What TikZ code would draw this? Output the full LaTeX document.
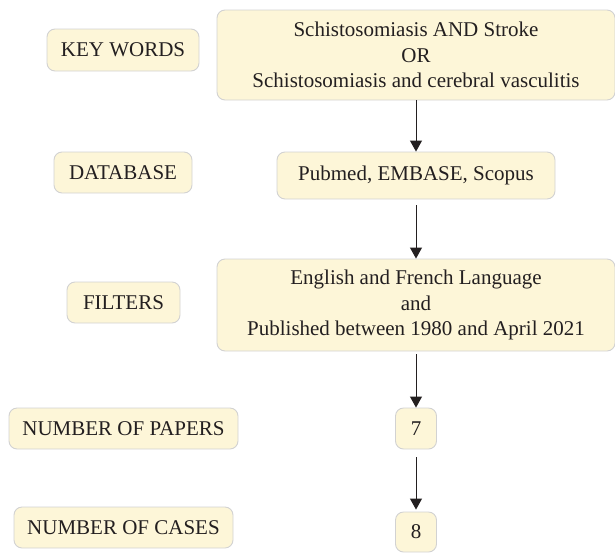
\documentclass[tikz,border=0pt]{standalone}
\usepackage{fontspec}
\setmainfont{Liberation Serif}
\usepackage{tikz}
\usepackage{xcolor}
\usetikzlibrary{arrows.meta}

\definecolor{boxfill}{HTML}{FDF6D8}
\definecolor{boxline}{HTML}{D2D2D2}
\definecolor{arrowcol}{HTML}{231F20}

\begin{document}
\begin{tikzpicture}[x=1pt,y=-1pt,
	box/.style={draw=boxline,fill=boxfill,line width=0.9pt,rounded corners=8pt,
		align=center,inner sep=0pt,font=\fontsize{21}{25.5}\selectfont,text=arrowcol},
	flow/.style={-{Triangle[length=11pt,width=12pt]},line width=1pt,draw=arrowcol}]
	
	\useasboundingbox (0,0) rectangle (615,552);
	
	% Draw nodes, labels on the left
	\node[box,minimum width=152pt,minimum height=42pt] (kwlabel) at (123,50) {KEY WORDS};
	\node[box,minimum width=138pt,minimum height=41pt] (dblabel) at (123,172.5) {DATABASE};
	\node[box,minimum width=113pt,minimum height=41pt] (fillabel) at (123.5,302.5) {FILTERS};
	\node[box,minimum width=229pt,minimum height=41pt] (paplabel) at (123.5,428.5) {NUMBER OF PAPERS};
	\node[box,minimum width=219pt,minimum height=41pt] (caslabel) at (123.5,527.5) {NUMBER OF CASES};
	
	% Draw nodes, the search itself
	\node[box,minimum width=398pt,minimum height=90pt] (kwbox) at (416,55)
		{Schistosomiasis AND Stroke\\OR\\Schistosomiasis and cerebral vasculitis};
	\node[box,minimum width=278pt,minimum height=47pt] (dbbox) at (416,175.5) {Pubmed, EMBASE, Scopus};
	\node[box,minimum width=398pt,minimum height=92pt] (filbox) at (416,305)
		{English and French Language\\and\\Published between 1980 and April 2021};
	\node[box,minimum width=41pt,minimum height=41pt] (papbox) at (416,428.5) {7};
	\node[box,minimum width=41pt,minimum height=40pt] (casbox) at (416,532) {8};
	
	% Draw arcs
	\draw[flow] (kwbox) to (dbbox);
	\draw[flow,shorten <=6pt] (dbbox) to (filbox);
	\draw[flow,shorten <=3pt] (filbox) to (papbox);
	\draw[flow,shorten <=8pt,shorten >=2pt] (papbox) to (casbox);
	
\end{tikzpicture}
\end{document}
